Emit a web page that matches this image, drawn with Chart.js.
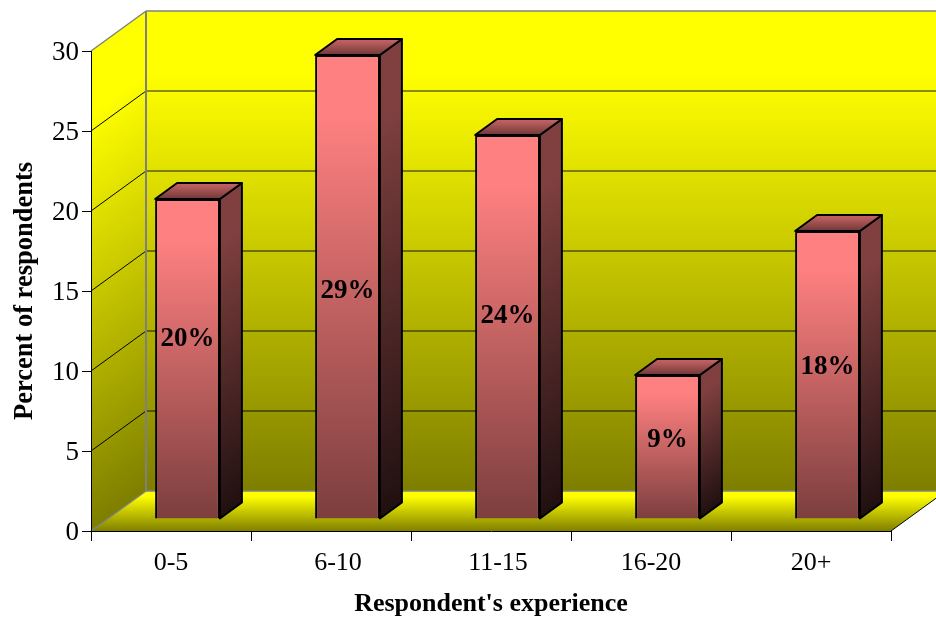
<!DOCTYPE html>
<html>
<head>
<meta charset="utf-8">
<style>
  html, body { margin: 0; padding: 0; background: #ffffff; overflow: hidden; }
  canvas { display: block; }
</style>
<script src="https://cdn.jsdelivr.net/npm/chart.js@4"></script>
</head>
<body>
<canvas id="experienceChart" width="936" height="618"></canvas>
<script>
var categories = ["0-5", "6-10", "11-15", "16-20", "20+"];
var percents = [20, 29, 24, 9, 18];
var yTicks = [0, 5, 10, 15, 20, 25, 30];

var serif = "'Liberation Serif', 'Times New Roman', serif";

// how the floor and walls are skewed: full depth, bar front offset, bar depth
var wallDx = 55, wallDy = -40;
var barDx = 16.5, barDy = -12;
var sideDx = 22, sideDy = -16;

// every face holds its light colour for a while before it starts to darken
function faceGradient(ctx, y0, y1, from, to) {
  var g = ctx.createLinearGradient(0, y0, 0, y1);
  g.addColorStop(0, from);
  g.addColorStop(0.13, from);
  g.addColorStop(1, to);
  return g;
}

function polygon(ctx, pts) {
  ctx.beginPath();
  ctx.moveTo(pts[0][0], pts[0][1]);
  for (var i = 1; i < pts.length; i++) ctx.lineTo(pts[i][0], pts[i][1]);
  ctx.closePath();
}

function line(ctx, x0, y0, x1, y1, color, width) {
  ctx.strokeStyle = color;
  ctx.lineWidth = width;
  ctx.beginPath();
  ctx.moveTo(x0, y0);
  ctx.lineTo(x1, y1);
  ctx.stroke();
}

var room = {
  id: "room",
  beforeDraw: function (chart, args, opts) {
    var ctx = chart.ctx;
    var a = chart.chartArea;
    var yScale = chart.scales.y;
    var backLeft = a.left + wallDx;
    var backRight = a.right + wallDx;
    var backTop = a.top + wallDy;
    var backBottom = a.bottom + wallDy;

    // nudge the category labels that sit off centre
    chart.scales.x.getLabelItems().forEach(function (item, i) {
      item.options.translation[0] += opts.categoryShift[i];
    });

    ctx.save();

    // back wall
    ctx.fillStyle = faceGradient(ctx, backTop, backBottom, "#ffff00", "#7e7e00");
    ctx.fillRect(backLeft, backTop, backRight - backLeft, backBottom - backTop);

    // left wall, gradient sheared along the wall
    ctx.save();
    ctx.transform(1, wallDy / wallDx, 0, 1, a.left, 0);
    ctx.fillStyle = faceGradient(ctx, a.top, a.bottom, "#ffff00", "#7e7e00");
    ctx.fillRect(0, a.top, wallDx, a.bottom - a.top);
    ctx.restore();

    // floor
    polygon(ctx, [[a.left, a.bottom], [a.right, a.bottom], [backRight, backBottom], [backLeft, backBottom]]);
    ctx.fillStyle = faceGradient(ctx, backBottom, a.bottom, "#ffff00", "#808000");
    ctx.fill();

    // grid lines run along the left wall and across the back wall
    yScale.ticks.forEach(function (t) {
      var y = Math.round(yScale.getPixelForValue(t.value));
      if (t.value === 0 || t.value === 30) return;
      line(ctx, a.left, y, backLeft, y + wallDy, "#000000", 1);
      line(ctx, backLeft, y + wallDy, backRight, y + wallDy, "rgba(0,0,0,0.6)", 1.5);
    });

    // wall outlines
    line(ctx, a.left, a.top, backLeft, backTop, "#808080", 1.5);
    line(ctx, backLeft, backTop, backRight, backTop, "#808080", 1.5);
    line(ctx, backLeft, backTop, backLeft, backBottom, "#808080", 2);
    line(ctx, backLeft, backBottom, backRight, backBottom, "#808080", 1.5);
    line(ctx, a.left, a.bottom, backLeft, backBottom, "#808080", 1.5);
    line(ctx, a.right, a.bottom, backRight, backBottom, "#000000", 1);

    ctx.restore();
  },
  beforeDatasetsDraw: function (chart) {
    var ctx = chart.ctx;
    ctx.save();
    ctx.translate(barDx, barDy);

    chart.getDatasetMeta(0).data.forEach(function (bar) {
      var left = bar.x - bar.width / 2;
      var right = bar.x + bar.width / 2;
      var top = bar.y;
      var bottom = bar.base;

      // side face
      ctx.save();
      ctx.transform(1, sideDy / sideDx, 0, 1, right, 0);
      ctx.fillStyle = faceGradient(ctx, top, bottom, "#804040", "#201010");
      ctx.fillRect(0, top, sideDx, bottom - top);
      ctx.restore();
      polygon(ctx, [[right, top], [right + sideDx, top + sideDy], [right + sideDx, bottom + sideDy], [right, bottom]]);
      ctx.strokeStyle = "#000000";
      ctx.lineWidth = 2;
      ctx.lineJoin = "round";
      ctx.stroke();

      // top face
      polygon(ctx, [[left, top], [right, top], [right + sideDx, top + sideDy], [left + sideDx, top + sideDy]]);
      ctx.fillStyle = faceGradient(ctx, top + sideDy, top, "#c06060", "#703838");
      ctx.fill();
      ctx.stroke();
    });
  },
  afterDatasetsDraw: function (chart, args, opts) {
    var ctx = chart.ctx;
    ctx.restore();

    ctx.save();
    ctx.fillStyle = "#000000";
    ctx.font = "bold 27px " + serif;
    ctx.textAlign = "center";
    ctx.textBaseline = "middle";
    chart.getDatasetMeta(0).data.forEach(function (bar, i) {
      var mid = (bar.y + bar.base) / 2 + barDy;
      ctx.fillText(percents[i] + "%", bar.x + barDx, mid + opts.shift[i]);
    });
    ctx.restore();
  },
};

new Chart(document.getElementById("experienceChart").getContext("2d"), {
  type: "bar",
  plugins: [room],
  data: {
    labels: categories,
    datasets: [
      {
        data: percents,
        clip: false,
        barPercentage: 0.405,
        categoryPercentage: 1,
        borderColor: "#000000",
        borderWidth: 2,
        backgroundColor: function (c) {
          var chart = c.chart;
          if (!chart.chartArea || c.parsed === undefined) return "#ff8080";
          var y = chart.scales.y;
          return faceGradient(chart.ctx, y.getPixelForValue(c.parsed.y), y.getPixelForValue(0), "#ff8080", "#7c3e3e");
        },
      },
    ],
  },
  options: {
    responsive: false,
    animation: false,
    layout: {
      padding: { top: 51, right: 45, bottom: 0, left: 0 },
    },
    scales: {
      y: {
        min: 0,
        max: 30,
        afterBuildTicks: function (scale) {
          scale.ticks = yTicks.map(function (v) {
            return { value: v };
          });
        },
        afterFit: function (scale) {
          scale.width = 91;
        },
        border: { color: "#000000", width: 1 },
        grid: { drawOnChartArea: false, color: "#000000", tickLength: 9 },
        ticks: {
          color: "#000000",
          padding: 3,
          labelOffset: 2,
          font: { family: serif, size: 27 },
        },
        title: {
          display: true,
          text: "Percent of respondents",
          color: "#000000",
          padding: { top: 9, bottom: 0 },
          font: { family: serif, size: 26.5, weight: "bold" },
        },
      },
      x: {
        afterFit: function (scale) {
          scale.height = 87;
        },
        border: { color: "#000000", width: 1 },
        grid: { drawOnChartArea: false, color: "#000000", tickLength: 10, offset: true },
        ticks: {
          color: "#000000",
          padding: 7,
          maxRotation: 0,
          font: { family: serif, size: 26 },
        },
        title: {
          display: true,
          text: "Respondent's experience",
          color: "#000000",
          padding: { top: 0, bottom: -2 },
          font: { family: serif, size: 26, weight: "bold" },
        },
      },
    },
    plugins: {
      legend: { display: false },
      tooltip: { enabled: false },
      room: {
        shift: [-20, 4, -11, -7, -8],
        categoryShift: [0, 7, 7, 0, 0],
      },
    },
  },
});
</script>
</body>
</html>
